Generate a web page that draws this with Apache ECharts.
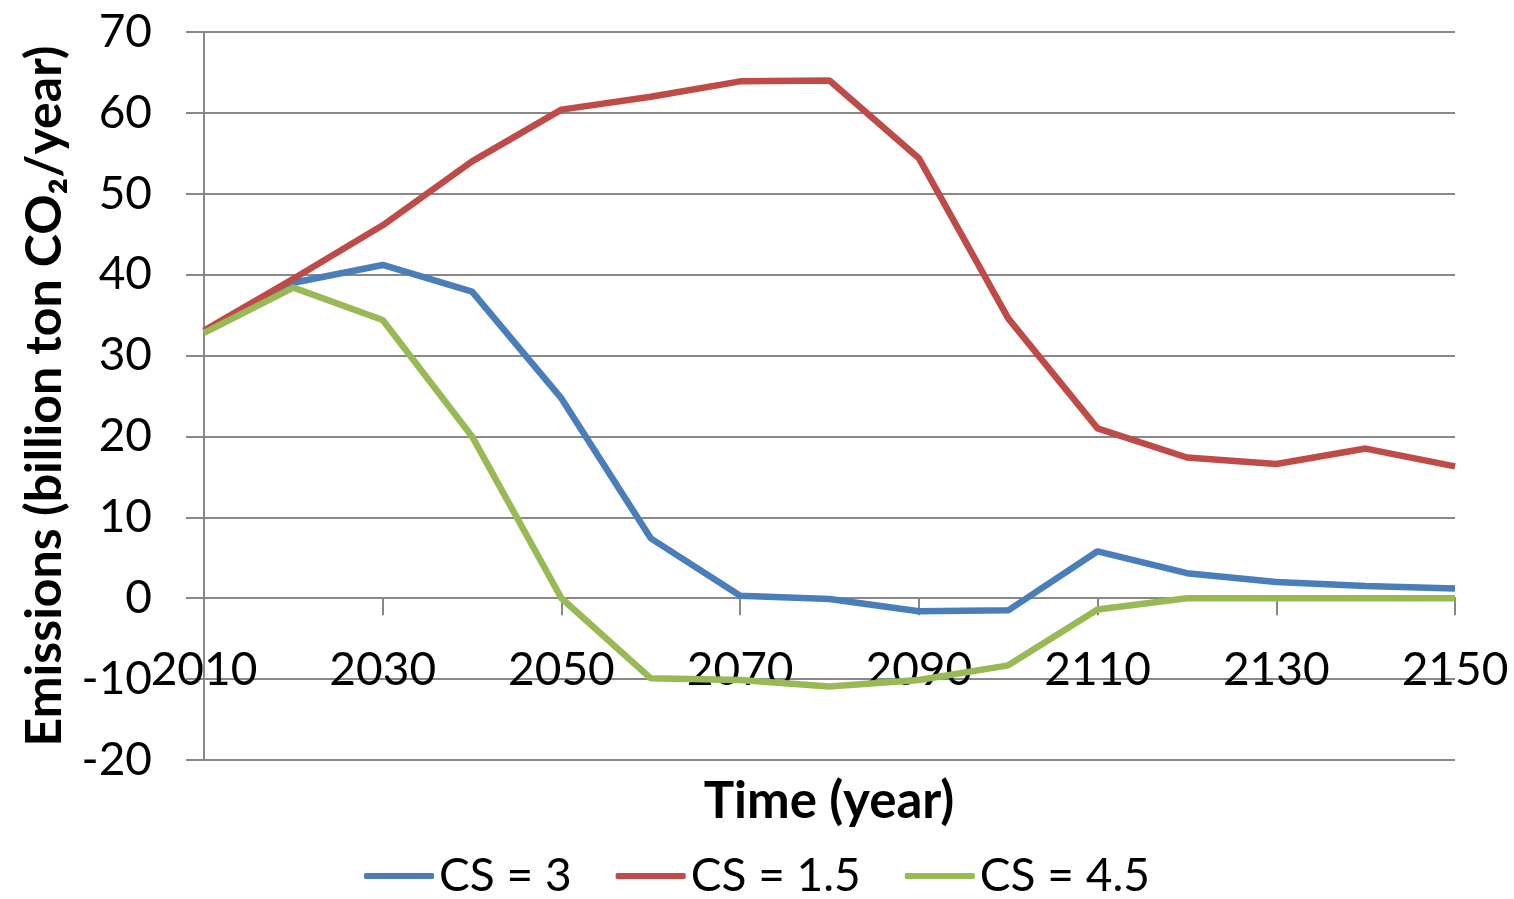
<!DOCTYPE html>
<html><head><meta charset="utf-8">
<script src="https://cdn.jsdelivr.net/npm/echarts@6/dist/echarts.min.js"></script>
<style>html,body{margin:0;padding:0;background:#fff}#c{width:1514px;height:899px}</style>
</head><body><div id="c"></div>
<script>
const years = [2010,2020,2030,2040,2050,2060,2070,2080,2090,2100,2110,2120,2130,2140,2150];
const cs3  = [33.0,39.0,41.2,37.9,24.7,7.4,0.3,-0.1,-1.6,-1.5,5.8,3.1,2.0,1.5,1.2];
const cs15 = [33.1,39.5,46.1,54.0,60.4,62.0,63.9,64.0,54.4,34.6,21.0,17.4,16.6,18.5,16.3];
const cs45 = [32.8,38.4,34.4,20.0,0.0,-9.9,-10.1,-10.9,-10.1,-8.3,-1.4,0.0,0.0,0.0,0.0];
const seriesNames = ['CS = 3','CS = 1.5','CS = 4.5'];
const colors = ['#4A7EBB','#BE4B48','#98B954'];
const FONT = 'Lato';
const chart = echarts.init(document.getElementById('c'));
const mk = (name, arr, color) => ({
  name, type:'line', data: years.map((y,i)=>[y,arr[i]]), showSymbol:false, symbol:'none',
  lineStyle:{color, width:6.5}, itemStyle:{color}, z:3, animation:false
});
chart.setOption({
  animation:false,
  textStyle:{fontFamily:FONT},
  grid:{left:204,right:59,top:32,bottom:139},
  legend:{
    top:848, left:'center', itemWidth:70, itemHeight:6, itemGap:44, icon:'roundRect',
    textStyle:{fontSize:46,color:'#000',fontFamily:FONT}, data:seriesNames
  },
  graphic:[{type:'text', x:829, y:802,
    style:{text:'Time (year)', font:'bold 51px Lato', fill:'#000', textAlign:'center', textVerticalAlign:'middle'}}],
  xAxis:[{
    type:'value', min:2010, max:2150, interval:20,
    axisLine:{onZero:true, lineStyle:{color:'#888',width:2}},
    axisTick:{show:true, length:17, inside:false, lineStyle:{color:'#888',width:2}},
    axisLabel:{show:false},
    splitLine:{show:false}
  },{
    type:'value', min:2010, max:2150, interval:20, position:'bottom', offset:-162,
    axisLine:{show:false, onZero:false}, axisTick:{show:false}, splitLine:{show:false},
    axisLabel:{fontSize:46, color:'#000', margin:49, fontFamily:FONT, formatter:v=>String(v)}
  }],
  yAxis:{
    type:'value', min:-20, max:70, interval:10,
    name:'Emissions (billion ton CO₂/year)', nameLocation:'middle', nameGap:134,
    nameTextStyle:{fontSize:50, fontWeight:'bold', color:'#000', fontFamily:FONT},
    axisLine:{show:true, lineStyle:{color:'#888',width:2}},
    axisTick:{show:true, length:18, lineStyle:{color:'#888',width:2}},
    axisLabel:{fontSize:46, color:'#000', margin:52, fontFamily:FONT},
    splitLine:{show:true, lineStyle:{color:'#888',width:2}}
  },
  series:[mk(seriesNames[0],cs3,colors[0]), mk(seriesNames[1],cs15,colors[1]), mk(seriesNames[2],cs45,colors[2])]
});
</script></body></html>
